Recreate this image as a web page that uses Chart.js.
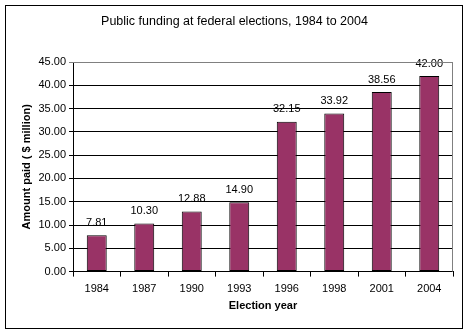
<!DOCTYPE html>
<html>
<head>
<meta charset="utf-8">
<script src="https://cdn.jsdelivr.net/npm/chart.js@4/dist/chart.umd.min.js"></script>
<style>
  html, body { margin: 0; padding: 0; background: #fff; }
  #wrap { position: relative; width: 468px; height: 335px; }
  #frame { position: absolute; left: 5px; top: 5px; width: 456px; height: 322px; border: 1px solid #000; pointer-events: none; }
</style>
</head>
<body>
<div id="wrap">
  <canvas id="fundChart" width="468" height="335"></canvas>
  <div id="frame"></div>
</div>
<script>
const years = ['1984', '1987', '1990', '1993', '1996', '1998', '2001', '2004'];
const amounts = [7.81, 10.30, 12.88, 14.90, 32.15, 33.92, 38.56, 42.00];
const yTicks = [0, 5, 10, 15, 20, 25, 30, 35, 40, 45];

const fontName = '"Liberation Sans", Arial, sans-serif';

// values above bars and grey plot-area edge
const labelPlugin = {
    id: 'barLabels',
    afterDatasetsDraw(chart) {
        const ctx = chart.ctx;
        const meta = chart.getDatasetMeta(0);
        ctx.save();
        ctx.font = '11px ' + fontName;
        ctx.fillStyle = '#000';
        ctx.textAlign = 'center';
        ctx.textBaseline = 'bottom';
        meta.data.forEach((bar, i) => {
            ctx.fillText(amounts[i].toFixed(2), bar.x, bar.y - 7);
        });
        const a = chart.chartArea;
        ctx.strokeStyle = '#808080';
        ctx.lineWidth = 1;
        ctx.beginPath();
        ctx.moveTo(a.left, a.top + 0.5);
        ctx.lineTo(a.right - 0.5, a.top + 0.5);
        ctx.lineTo(a.right - 0.5, a.bottom);
        ctx.stroke();
        ctx.restore();
    }
};

new Chart(document.getElementById('fundChart').getContext('2d'), {
    type: 'bar',
    data: {
        labels: years,
        datasets: [{
            data: amounts,
            backgroundColor: '#993366',
            borderColor: '#000',
            borderWidth: 1,
            borderSkipped: false,
            categoryPercentage: 1,
            barPercentage: 0.42
        }]
    },
    options: {
        responsive: false,
        animation: false,
        layout: { padding: { left: 16, right: 15, top: 8, bottom: 18 } },
        plugins: {
            legend: { display: false },
            tooltip: { enabled: false },
            title: {
                display: true,
                text: 'Public funding at federal elections, 1984 to 2004',
                color: '#000',
                font: { family: fontName, size: 12.5, weight: 'normal' },
                padding: { top: 6, bottom: 33 }
            }
        },
        scales: {
            x: {
                offset: true,
                grid: { display: true, offset: true, drawOnChartArea: false, drawTicks: true, tickLength: 5, color: '#000' },
                border: { color: '#000' },
                ticks: { color: '#000', font: { family: fontName, size: 11 }, padding: 6 },
                title: { display: true, text: 'Election year', color: '#000', font: { family: fontName, size: 11, weight: 'bold' }, padding: { top: -2 } }
            },
            y: {
                min: 0,
                max: 45,
                afterBuildTicks: scale => { scale.ticks = yTicks.map(v => ({ value: v })); },
                afterFit: scale => { scale.width = 57; },
                grid: {
                    color: c => (c.tick && c.tick.value === 45 ? '#808080' : '#000'),
                    tickLength: 4,
                    drawTicks: true
                },
                border: { color: '#000' },
                ticks: { color: '#000', font: { family: fontName, size: 11 }, padding: 3, callback: v => v.toFixed(2) },
                title: { display: true, text: 'Amount paid ( $ million)', color: '#000', font: { family: fontName, size: 11, weight: 'bold' }, padding: { bottom: 6 } }
            }
        }
    },
    plugins: [labelPlugin]
});
</script>
</body>
</html>
